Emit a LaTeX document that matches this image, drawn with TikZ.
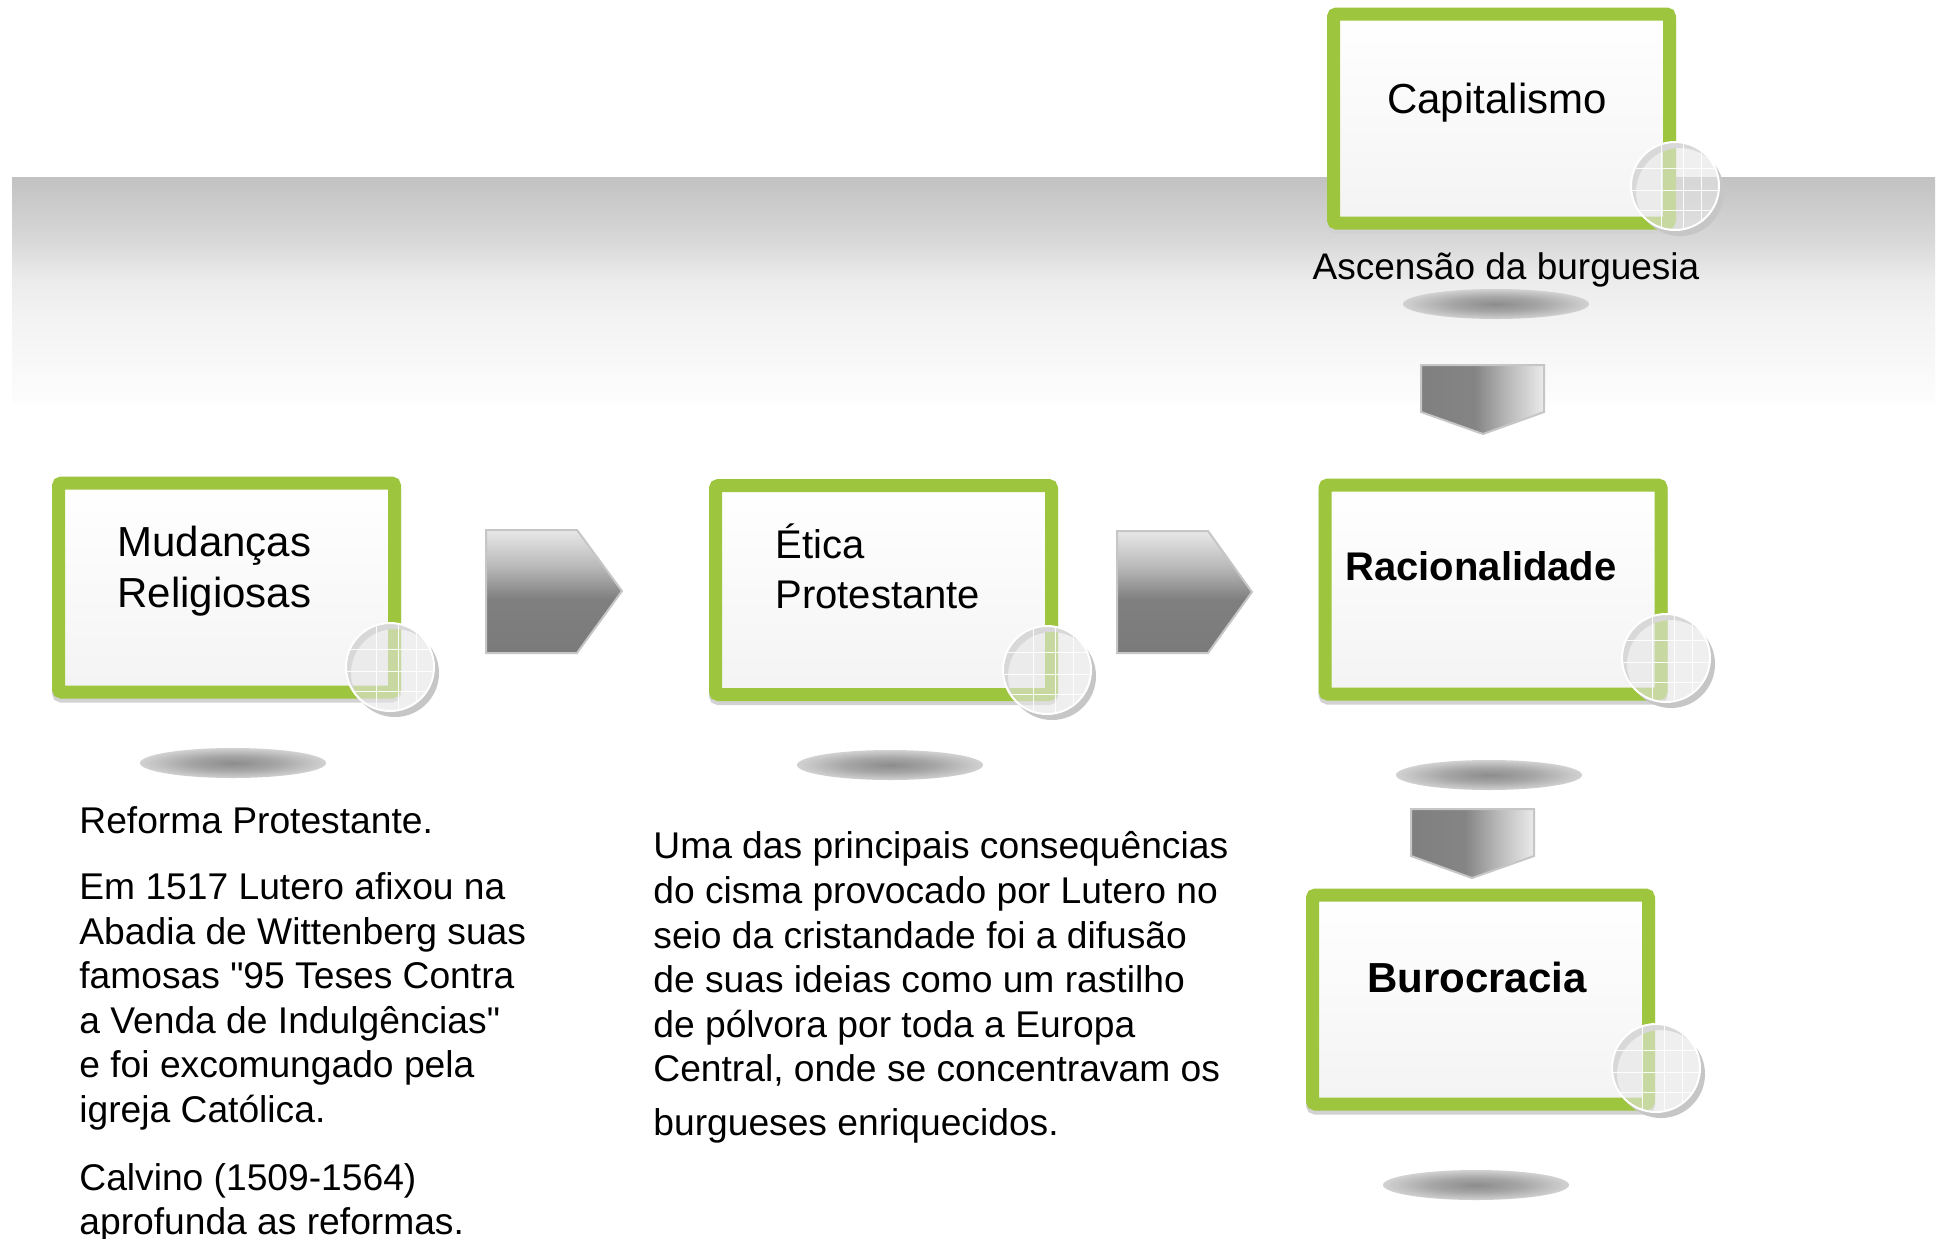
\documentclass[tikz,border=0pt]{standalone}
\usepackage{fontspec}
\setmainfont{Liberation Sans}
\usetikzlibrary{calc}
\definecolor{boxgreen}{RGB}{157,197,61}
\definecolor{g48}{gray}{0.48}
\definecolor{g50}{gray}{0.50}
\definecolor{g52}{gray}{0.52}
\definecolor{g55}{gray}{0.55}
\definecolor{g65}{gray}{0.65}
\definecolor{g72}{gray}{0.72}
\definecolor{g82}{gray}{0.82}
\definecolor{g91}{gray}{0.91}
\definecolor{g92}{gray}{0.92}
\definecolor{c194}{gray}{0.76}
\definecolor{c216}{gray}{0.847}
\definecolor{c236}{gray}{0.925}
\definecolor{c243}{gray}{0.953}
\definecolor{c248}{gray}{0.973}
\definecolor{c253}{gray}{0.992}
\pgfdeclareverticalshading{bandshade}{100bp}{color(0bp)=(c253); color(25bp)=(c253); color(34bp)=(c248); color(44bp)=(c243); color(52bp)=(c236); color(61bp)=(c216); color(75bp)=(c194); color(100bp)=(c194)}
\pgfdeclareverticalshading{arrowV}{100bp}{color(0bp)=(g48); color(25bp)=(g48); color(47bp)=(g50); color(60bp)=(g72); color(75bp)=(g91); color(100bp)=(g91)}
\pgfdeclarehorizontalshading{arrowH}{100bp}{color(0bp)=(g50); color(25bp)=(g50); color(47bp)=(g52); color(60bp)=(g72); color(75bp)=(g92); color(100bp)=(g92)}
\pgfdeclareradialshading{ellsh}{\pgfpoint{0bp}{0bp}}{color(0bp)=(g55); color(12bp)=(g65); color(25bp)=(g82); color(50bp)=(g82)}
\newcommand{\lensdeco}[2]{%
  \fill[gray!45, even odd rule] (#1+5,#2+6) circle[radius=22pt] (#1,#2) circle[radius=22pt];
  \fill[gray!20, opacity=0.6] (#1,#2) circle[radius=22pt];
  \begin{scope}
    \clip (#1,#2) circle[radius=22pt];
    \draw[white, line width=0.5pt, opacity=0.9]
      (#1-14,#2-50) -- (#1-14,#2+50)
      (#1+8,#2-50) -- (#1+8,#2+50)
      (#1+26,#2-50) -- (#1+26,#2+50)
      (#1-50,#2-18) -- (#1+50,#2-18)
      (#1-50,#2+4) -- (#1+50,#2+4)
      (#1-50,#2+24) -- (#1+50,#2+24);
  \end{scope}
  \draw[white, line width=1pt] (#1,#2) circle[radius=22pt];
}
\begin{document}
\begin{tikzpicture}[x=0.5pt,y=-0.5pt,
  greenbox/.style={draw=boxgreen, line width=6.5pt, rounded corners=1.5pt,
    minimum width=168pt, minimum height=104.5pt, inner sep=0pt, outer sep=0pt,
    top color=white, bottom color=gray!9,
    preaction={draw=gray!35, fill=gray!35, line width=6.5pt, transform canvas={yshift=-2pt}}},
  title/.style={font=\fontsize{21pt}{25pt}\selectfont, inner sep=0pt},
  boldtitle/.style={font=\fontsize{21pt}{25pt}\selectfont\bfseries, inner sep=0pt},
  body/.style={font=\fontsize{18.6pt}{22pt}\selectfont, inner sep=0pt, anchor=base west},
  arrowline/.style={draw=gray!45, line width=1pt}
]
\useasboundingbox (0,0) rectangle (1939,1238);
\fill[white] (0,0) rectangle (1939,1238);
% background band
\shade[shading=bandshade] (12,177) rectangle (1935,403);
% floor shadows
\shade[shading=ellsh] (1496,304) ellipse[x radius=46.5pt, y radius=7.5pt];
\shade[shading=ellsh] (233,763) ellipse[x radius=46.5pt, y radius=7.5pt];
\shade[shading=ellsh] (890,765) ellipse[x radius=46.5pt, y radius=7.5pt];
\shade[shading=ellsh] (1489,775) ellipse[x radius=46.5pt, y radius=7.5pt];
\shade[shading=ellsh] (1476,1185) ellipse[x radius=46.5pt, y radius=7.5pt];
% chevrons
\shadedraw[shading=arrowV, arrowline] (486,530) -- (577,530) -- (622,591) -- (577,653) -- (486,653) -- cycle;
\shadedraw[shading=arrowV, arrowline] (1117,531) -- (1208,531) -- (1252,592) -- (1208,653) -- (1117,653) -- cycle;
\shadedraw[shading=arrowH, arrowline] (1421,365) -- (1544,365) -- (1544,412) -- (1483,434) -- (1421,412) -- cycle;
\shadedraw[shading=arrowH, arrowline] (1411,809) -- (1534,809) -- (1534,856) -- (1472,878) -- (1411,856) -- cycle;
% boxes
\node[greenbox] (cap) at (1501.5,118.5) {};
\node[greenbox] (mud) at (226.5,587.5) {};
\node[greenbox] (eti) at (883.5,590) {};
\node[greenbox] (rac) at (1493,589.5) {};
\node[greenbox] (bur) at (1480.5,999.5) {};
% lenses
\lensdeco{1675}{186}
\lensdeco{390}{667}
\lensdeco{1047}{670}
\lensdeco{1666}{658}
\lensdeco{1656}{1068}
% box texts
\node[title, anchor=base] (capT) at (1497,113) {Capitalismo};
\node[title, anchor=base west] (mudT1) at (117,556) {Mudanças};
\node[title, anchor=base west] (mudT2) at (117,607) {Religiosas};
\node[font=\fontsize{20pt}{24pt}\selectfont, inner sep=0pt, anchor=base west] (etiT1) at (775,558) {Ética};
\node[font=\fontsize{20pt}{24pt}\selectfont, inner sep=0pt, anchor=base west] (etiT2) at (775,608) {Protestante};
\node[font=\fontsize{20pt}{24pt}\selectfont\bfseries, inner sep=0pt, anchor=base west] (racT) at (1345,580) {Racionalidade};
\node[boldtitle, anchor=base] (burT) at (1477,992) {Burocracia};
\node[font=\fontsize{18.5pt}{22pt}\selectfont, inner sep=0pt, anchor=base] (asc) at (1506,279) {Ascensão da burguesia};
% left text block
\foreach \y/\t [count=\i] in {833/{Reforma Protestante.},
  899/{Em 1517 Lutero afixou na},
  944/{Abadia de Wittenberg suas},
  988/{famosas {\textquotedbl}95 Teses Contra},
  1033/{a Venda de Indulgências{\textquotedbl}},
  1077/{e foi excomungado pela},
  1122/{igreja Católica.},
  1190/{Calvino (1509-1564)},
  1234/{aprofunda as reformas.}}
  \node[body] (left\i) at (79,\y) {\t};
% middle text block
\foreach \y/\t [count=\i] in {858/{Uma das principais consequências},
  903/{do cisma provocado por Lutero no},
  948/{seio da cristandade foi a difusão},
  992/{de suas ideias como um rastilho},
  1037/{de pólvora por toda a Europa},
  1081/{Central, onde se concentravam os},
  1135/{burgueses enriquecidos.}}
  \node[body] (mid\i) at (653,\y) {\t};
\end{tikzpicture}
\end{document}
